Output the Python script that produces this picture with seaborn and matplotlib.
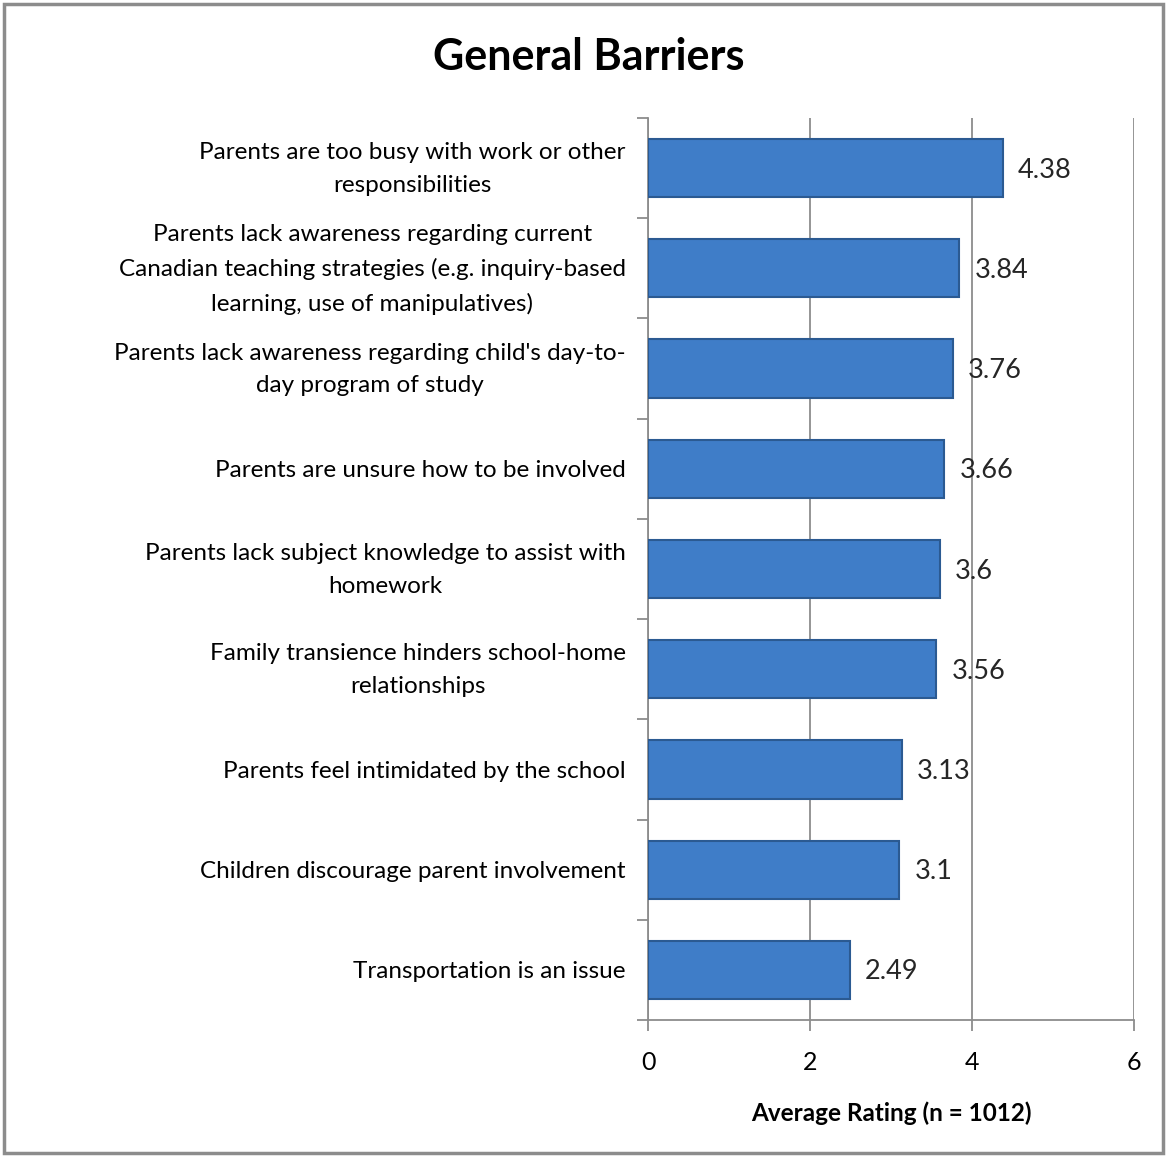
import matplotlib
matplotlib.use("Agg")
import matplotlib.pyplot as plt
import matplotlib.transforms as mtransforms
import seaborn as sns
import pandas as pd

categories = [
    "Parents are too busy with work or other\nresponsibilities",
    "Parents lack awareness regarding current\nCanadian teaching strategies (e.g. inquiry-based\nlearning, use of manipulatives)",
    "Parents lack awareness regarding child's day-to-\nday program of study",
    "Parents are unsure how to be involved",
    "Parents lack subject knowledge to assist with\nhomework",
    "Family transience hinders school-home\nrelationships",
    "Parents feel intimidated by the school",
    "Children discourage parent involvement",
    "Transportation is an issue",
]
values = [4.38, 3.84, 3.76, 3.66, 3.6, 3.56, 3.13, 3.1, 2.49]
value_labels = ["4.38", "3.84", "3.76", "3.66", "3.6", "3.56", "3.13", "3.1", "2.49"]
x_ticks = [0, 2, 4, 6]

sns.set_theme(style="white")
plt.rcParams['font.family'] = ['Lato', 'DejaVu Sans']
plt.rcParams['text.color'] = 'black'
plt.rcParams['xtick.color'] = 'black'
plt.rcParams['ytick.color'] = 'black'
plt.rcParams['axes.labelcolor'] = 'black'

df = pd.DataFrame({"cat": categories, "val": values})

fig = plt.figure(figsize=(11.67, 11.57), dpi=100)
ax = fig.add_axes([648/1167, 1-1020/1157, (1134-648)/1167, (1020-118)/1157])

sns.barplot(data=df, y="cat", x="val", orient="h", ax=ax, color="#3F7DC8",
            width=0.58, edgecolor="#2B5A92", linewidth=1.5, saturation=1, zorder=3)

ax.set_xlim(0, 6)
ax.set_ylim(len(categories) - 0.5, -0.5)
ax.set_xticks(x_ticks)
ax.set_xticklabels([str(t) for t in x_ticks], fontsize=18)
ax.xaxis.grid(True, color="#8C8C8C", linewidth=1.3, zorder=0)
ax.set_axisbelow(True)

for sp in ["top", "right"]:
    ax.spines[sp].set_visible(False)
for sp in ["left", "bottom"]:
    ax.spines[sp].set_color("#8C8C8C")
    ax.spines[sp].set_linewidth(1.3)

ax.set_yticks(range(len(categories)))
ax.set_yticklabels(categories, fontsize=17.5, linespacing=1.7, multialignment="center")
ax.tick_params(axis="y", which="major", left=False, length=0, pad=16)
ax.tick_params(axis="x", bottom=True, length=8, width=1.3, color="#8C8C8C", labelcolor="black",
               pad=14, direction="out")
# minor ticks at category boundaries on y axis
ax.set_yticks([i - 0.5 for i in range(len(categories) + 1)], minor=True)
ax.tick_params(axis="y", which="minor", left=True, length=8, width=1.3, color="#8C8C8C", direction="out")

# shift multi-line labels up slightly so they centre on the bars
for lab in ax.get_yticklabels():
    if "\n" in lab.get_text():
        lab.set_transform(lab.get_transform() +
                          mtransforms.ScaledTranslation(0, 7/100, fig.dpi_scale_trans))

for i, (v, lab) in enumerate(zip(values, value_labels)):
    ax.text(v + 0.19, i + 0.02, lab, va="center", ha="left", fontsize=19.5, color="#262626", zorder=4)

ax.set_xlabel("Average Rating (n = 1012)", fontsize=17.5, fontweight="bold", labelpad=20)
ax.set_ylabel("")

fig.text(589/1167, 1-57/1157, "General Barriers", ha="center", va="center",
         fontsize=31, fontweight="bold", color="black")

border = plt.Rectangle((4/1167, 4/1157), (1163-4)/1167, (1153-4)/1157, transform=fig.transFigure,
                       fill=False, edgecolor="#8C8C8C", linewidth=2.5)
fig.patches.append(border)

fig.savefig("out.png", dpi=100)
